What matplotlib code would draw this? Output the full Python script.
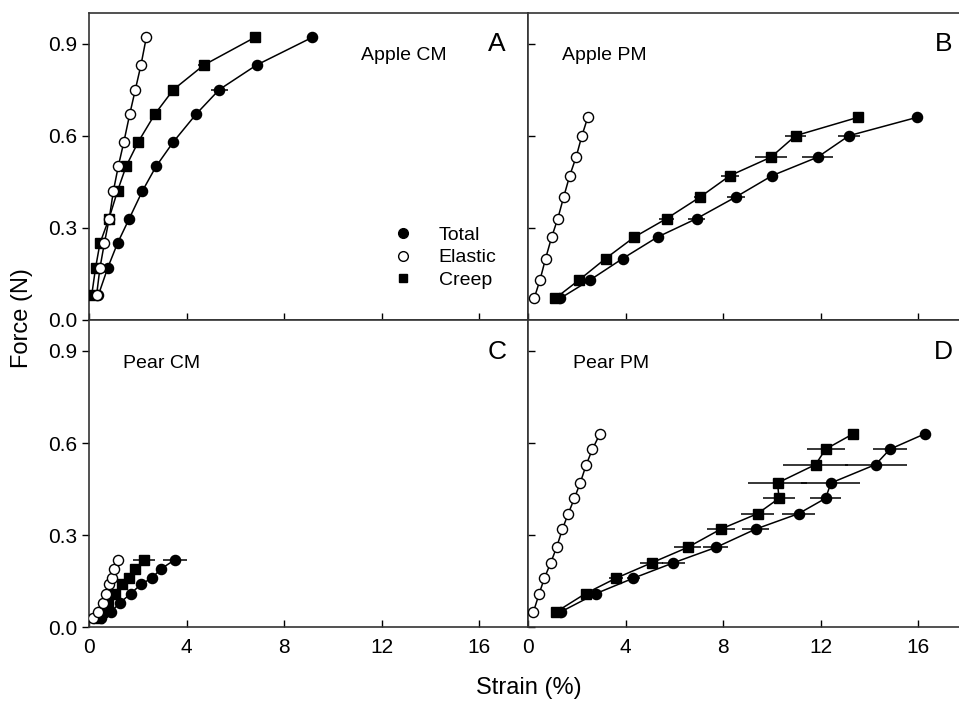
import matplotlib
matplotlib.use("Agg")
import matplotlib.pyplot as plt
from matplotlib.lines import Line2D

plt.rcParams['font.family'] = ['Liberation Sans', 'DejaVu Sans']

# force levels (N)
force_a = [0.08, 0.17, 0.25, 0.33, 0.42, 0.50, 0.58, 0.67, 0.75, 0.83, 0.92]
force_b = [0.07, 0.13, 0.20, 0.27, 0.33, 0.40, 0.47, 0.53, 0.60, 0.66]
force_c = [0.03, 0.05, 0.08, 0.11, 0.14, 0.16, 0.19, 0.22]
force_d = [0.05, 0.11, 0.16, 0.21, 0.26, 0.32, 0.37, 0.42, 0.47, 0.53, 0.58, 0.63]

# strain (%) - apple CM
a_total = [0.38, 0.77, 1.17, 1.65, 2.19, 2.75, 3.46, 4.39, 5.34, 6.87, 9.15]
a_elastic = [0.31, 0.45, 0.63, 0.83, 1.00, 1.20, 1.43, 1.67, 1.90, 2.13, 2.35]
a_creep = [0.11, 0.27, 0.45, 0.82, 1.17, 1.52, 2.02, 2.70, 3.46, 4.71, 6.80]
a_total_err = [0, 0, 0, 0, 0, 0, 0, 0.1, 0.34, 0.1, 0]
a_creep_err = [0, 0, 0, 0, 0, 0, 0, 0, 0.2, 0.24, 0]

# apple PM
b_total = [1.31, 2.54, 3.88, 5.31, 6.91, 8.51, 10.01, 11.87, 13.16, 15.96]
b_elastic = [0.25, 0.49, 0.72, 0.97, 1.22, 1.46, 1.71, 1.97, 2.21, 2.45]
b_creep = [1.11, 2.09, 3.18, 4.36, 5.68, 7.05, 8.28, 9.96, 10.97, 13.54]
b_total_err = [0, 0, 0, 0, 0.34, 0.37, 0.2, 0.65, 0.44, 0]
b_creep_err = [0, 0, 0, 0, 0.3, 0.26, 0.37, 0.65, 0.44, 0]

# pear CM
c_total = [0.48, 0.90, 1.27, 1.72, 2.13, 2.57, 2.95, 3.52]
c_elastic = [0.18, 0.38, 0.56, 0.70, 0.83, 0.96, 1.04, 1.20]
c_creep = [0.38, 0.52, 0.79, 1.07, 1.34, 1.65, 1.89, 2.25]
c_total_err = [0, 0, 0, 0, 0, 0, 0, 0.48]
c_creep_err = [0, 0, 0, 0, 0, 0, 0, 0.46]

# pear PM
d_total = [1.34, 2.79, 4.32, 5.96, 7.70, 9.34, 11.09, 12.20, 12.42, 14.25, 14.84, 16.27]
d_elastic = [0.22, 0.46, 0.67, 0.93, 1.17, 1.41, 1.65, 1.90, 2.14, 2.39, 2.64, 2.95]
d_creep = [1.15, 2.36, 3.61, 5.07, 6.54, 7.91, 9.41, 10.29, 10.23, 11.79, 12.20, 13.33]
d_total_err = [0, 0, 0.27, 0.48, 0.51, 0.56, 0.68, 0.65, 1.21, 1.27, 0.68, 0]
d_creep_err = [0, 0, 0.29, 0.48, 0.55, 0.58, 0.68, 0.65, 1.2, 1.33, 0.78, 0]

panels = [
    (force_a, a_total, a_elastic, a_creep, a_total_err, a_creep_err, 'Apple CM', 'A'),
    (force_b, b_total, b_elastic, b_creep, b_total_err, b_creep_err, 'Apple PM', 'B'),
    (force_c, c_total, c_elastic, c_creep, c_total_err, c_creep_err, 'Pear CM', 'C'),
    (force_d, d_total, d_elastic, d_creep, d_total_err, d_creep_err, 'Pear PM', 'D'),
]

fig = plt.figure(figsize=(9.59, 7.02), dpi=100)
w = 0.4578
h = 0.4375
boxes = [
    [0.0928, 0.5442, w, h],
    [0.5506, 0.5442, w, h],
    [0.0928, 0.1064, w, h],
    [0.5506, 0.1064, w, h],
]
# label positions (axes fraction)
label_pos = {'A': (0.62, 0.86), 'B': (0.077, 0.86), 'C': (0.078, 0.86), 'D': (0.102, 0.86)}
letter_pos = {'A': 0.929, 'B': 0.946, 'C': 0.93, 'D': 0.945}

line_kw = dict(color='black', lw=1.1, markersize=7.3, markeredgewidth=1.0,
               ecolor='black', elinewidth=1.1, capsize=0)

axes = []
for i, (force, tot, ela, crp, tot_err, crp_err, name, letter) in enumerate(panels):
    ax = fig.add_axes(boxes[i])
    axes.append(ax)
    ax.errorbar(crp, force, xerr=crp_err, marker='s', markerfacecolor='black', zorder=3, **line_kw)
    ax.errorbar(tot, force, xerr=tot_err, marker='o', markerfacecolor='black', zorder=3, **line_kw)
    ax.plot(ela, force, marker='o', color='black', lw=1.1, markersize=7.3,
            markerfacecolor='white', markeredgewidth=1.0, zorder=4)

    ax.set_xlim(0, 18)
    ax.set_ylim(0, 1.0)
    ax.set_xticks([0, 4, 8, 12, 16])
    ax.set_yticks([0.0, 0.3, 0.6, 0.9])
    ax.yaxis.set_major_formatter(matplotlib.ticker.FormatStrFormatter('%.1f'))
    ax.tick_params(axis='x', direction='in', length=5, width=1, labelsize=15, pad=8)
    if i % 2 == 0:
        ax.tick_params(axis='y', direction='out', length=5, width=1, labelsize=15)
    else:
        ax.tick_params(axis='y', direction='in', length=5, width=1, labelleft=False)
    if i < 2:
        ax.tick_params(axis='x', labelbottom=False)
    for s in ax.spines.values():
        s.set_linewidth(1.2)
        s.set_color('#333333')

    ax.text(label_pos[letter][0], label_pos[letter][1], name, transform=ax.transAxes,
            fontsize=14, va='center', ha='left')
    ax.text(letter_pos[letter], 0.897, letter, transform=ax.transAxes,
            fontsize=19, va='center', ha='center')

handles = [
    Line2D([], [], ls='none', marker='o', color='black', markersize=7),
    Line2D([], [], ls='none', marker='o', color='black', markerfacecolor='white', markersize=7),
    Line2D([], [], ls='none', marker='s', color='black', markersize=6),
]
axes[0].legend(handles, ['Total', 'Elastic', 'Creep'], frameon=False, fontsize=14,
               loc='upper left', bbox_to_anchor=(0.675, 0.33), handlelength=1.0,
               handletextpad=1.35, labelspacing=0.25, borderaxespad=0)

fig.text(22 / 959, 1 - 318 / 702, 'Force (N)', rotation=90, ha='center', va='center', fontsize=17)
fig.text(529 / 959, 1 - 688 / 702, 'Strain (%)', ha='center', va='center', fontsize=17)

fig.savefig('out.png', dpi=100)
